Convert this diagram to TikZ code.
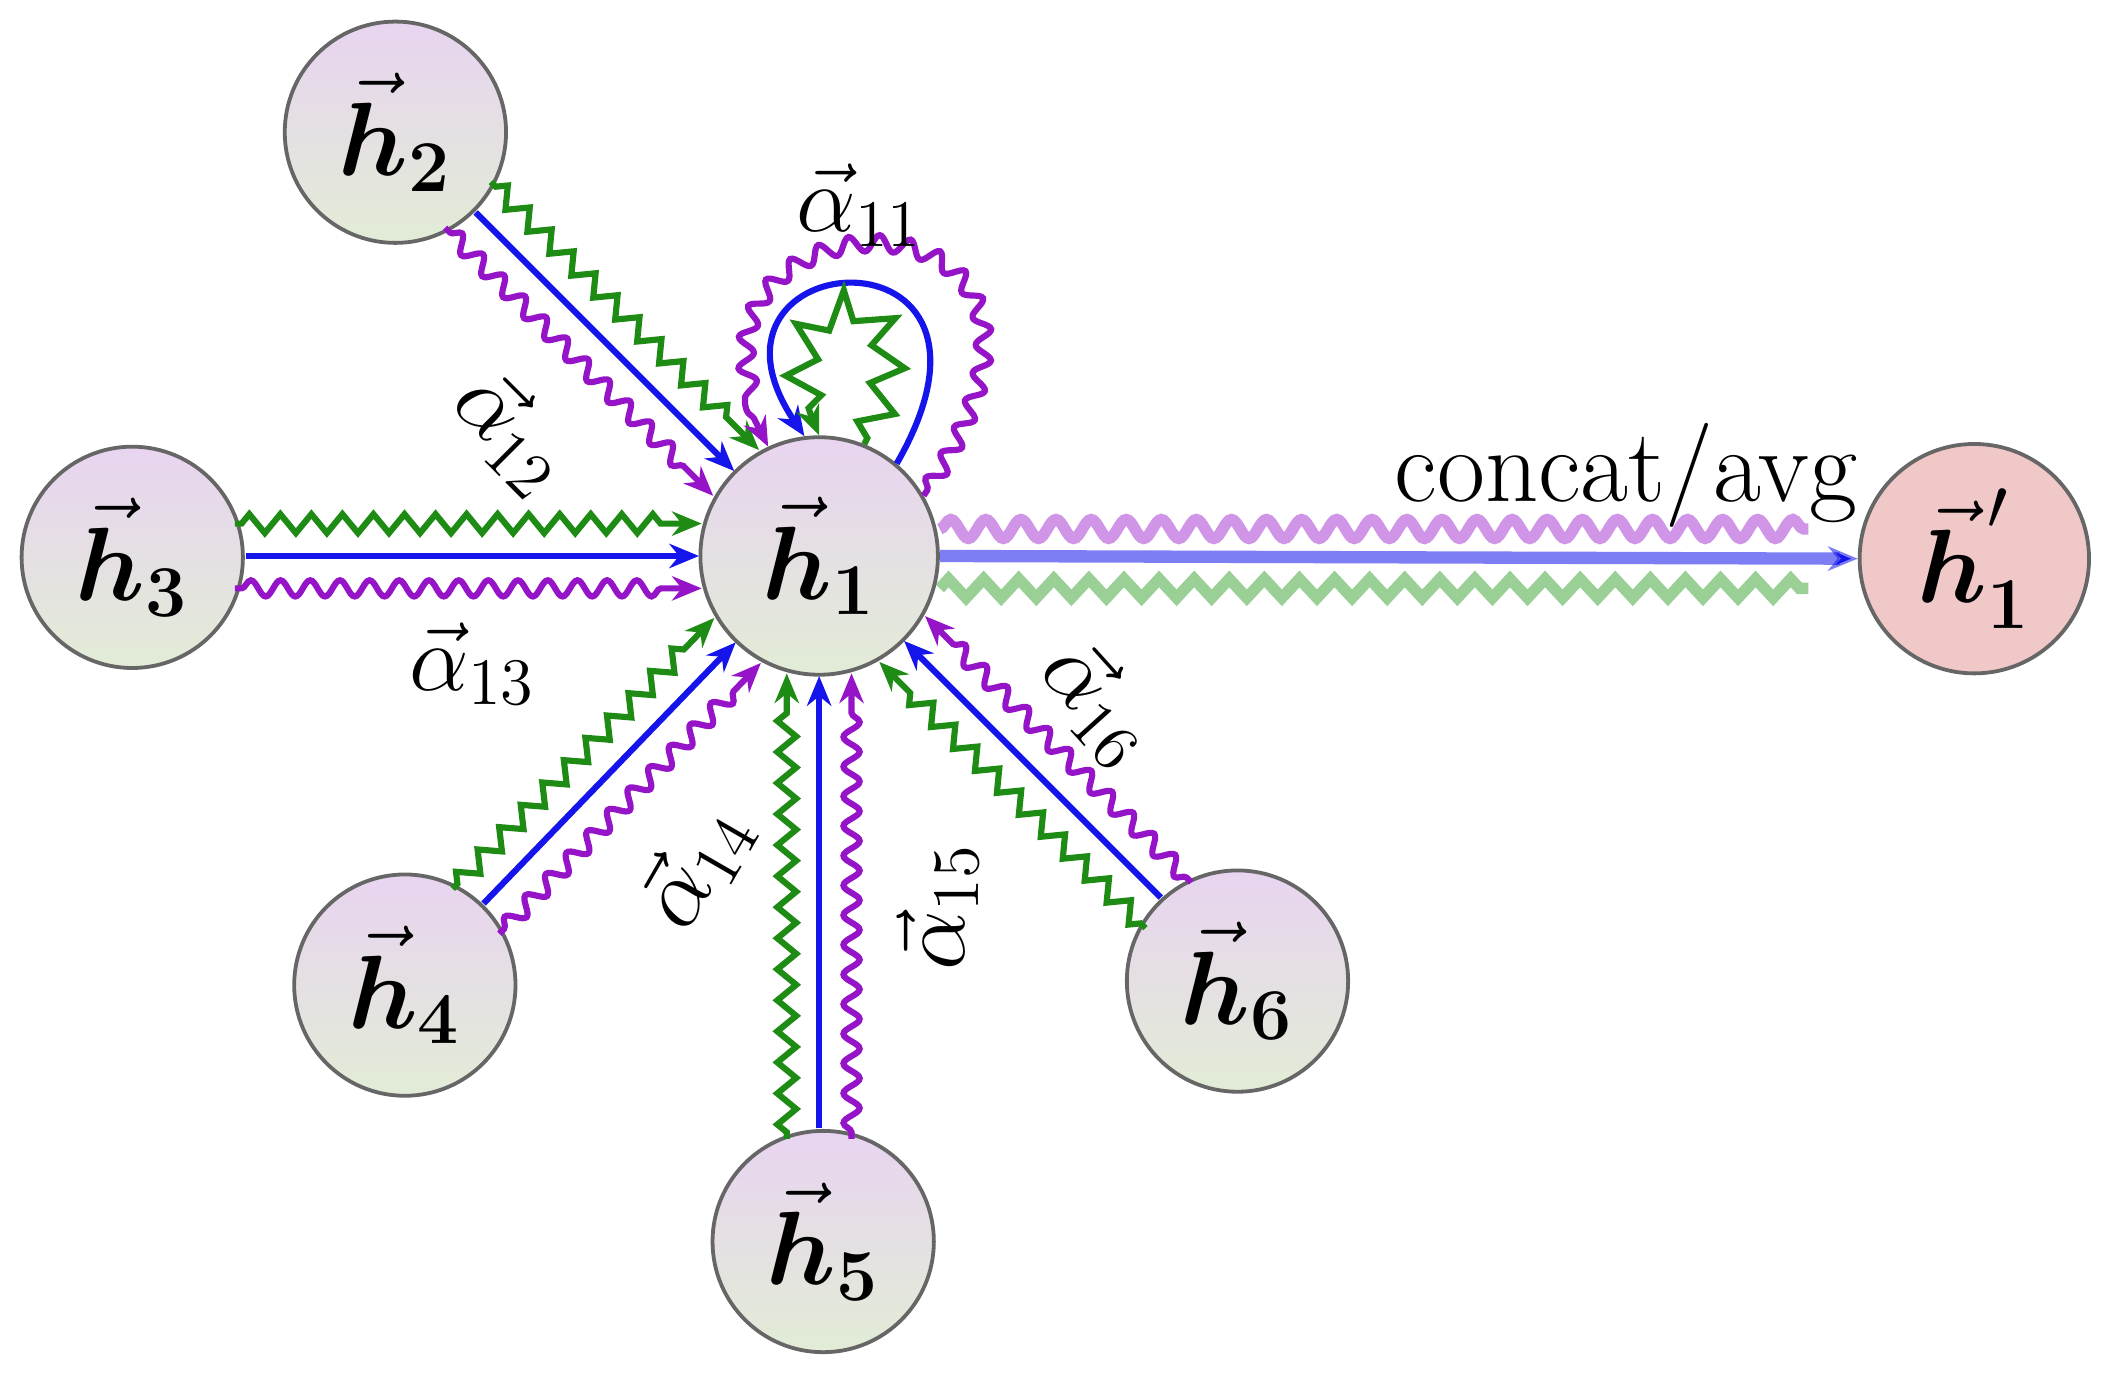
\documentclass[tikz,border=0pt]{standalone}
\usepackage{fix-cm}
\usepackage{amsmath,amssymb}
\usetikzlibrary{arrows.meta,decorations.pathmorphing,calc}
\begin{document}
\begin{tikzpicture}[
  nd/.style={circle,draw=black!60,line width=0.8pt,top color={rgb,255:red,232;green,212;blue,240},bottom color={rgb,255:red,226;green,236;blue,214},inner sep=0pt},
  tip/.style={-{Stealth[length=2.2mm,width=1.8mm]}},
  bl/.style={tip,draw={rgb,255:red,20;green,20;blue,235},line width=1.3pt},
  gz/.style={tip,draw={rgb,255:red,30;green,140;blue,20},line width=1.3pt,decorate,decoration={zigzag,amplitude=0.7mm,segment length=2.3mm,post length=2.5mm,pre length=0.5mm}},
  ps/.style={tip,draw={rgb,255:red,150;green,20;blue,200},line width=1.3pt,decorate,decoration={snake,amplitude=0.6mm,segment length=2.2mm,post length=2.5mm,pre length=0.5mm}},
  lab/.style={font=\fontsize{20}{20}\selectfont}
]
\useasboundingbox (0,0) rectangle (15.68,-10.17);
\newcommand{\hv}[1]{\fontsize{22}{22}\selectfont$\vec{\boldsymbol{h}}_{\mathbf{#1}}$}
\node[nd,minimum size=1.76cm] (h1) at (6.07,-4.12) {\hv{1}};
\node[nd,minimum size=1.64cm] (h2) at (2.93,-0.98) {\hv{2}};
\node[nd,minimum size=1.64cm] (h3) at (0.98,-4.13) {\hv{3}};
\node[nd,minimum size=1.64cm] (h4) at (3.00,-7.30) {\hv{4}};
\node[nd,minimum size=1.64cm] (h5) at (6.10,-9.20) {\hv{5}};
\node[nd,minimum size=1.64cm] (h6) at (9.17,-7.27) {\hv{6}};
\node[circle,draw=black!60,line width=0.8pt,fill={rgb,255:red,240;green,200;blue,200},minimum size=1.70cm,inner sep=0pt] (h1p) at (14.63,-4.14) {\fontsize{22}{22}\selectfont$\vec{\boldsymbol{h}}'_{\mathbf{1}}$};

% neighbour edges
\foreach \a/\d in {135/4.44,180/5.09,226/4.42,270/5.08,315/4.42}{
  \begin{scope}[shift={(h1.center)},rotate=\a]
    \draw[bl] (\d-0.84,0) -- (0.89,0);
    \draw[gz] (\d-0.76,-0.24) -- (0.87,-0.24);
    \draw[ps] (\d-0.76,0.24) -- (0.87,0.24);
  \end{scope}
}
% self loop
\draw[bl] (h1.50) .. controls (7.7,-1.6) and (5.0,-1.8) .. (h1.97);
\draw[gz,decoration={zigzag,amplitude=1.2mm,segment length=3.2mm,post length=1.5mm}] (h1.68) .. controls (7.1,-1.9) and (5.5,-2.0) .. (h1.90);
\draw[ps,decoration={snake,amplitude=0.6mm,segment length=2.2mm,post length=2mm}] (h1.30) .. controls (8.5,-1.2) and (4.6,-1.4) .. (h1.115);

% output
\draw[tip,draw={rgb,255:red,20;green,20;blue,235},draw opacity=0.55,line width=2.6pt] (h1.east) -- (h1p.west);
\draw[draw={rgb,255:red,150;green,20;blue,200},opacity=0.45,line width=2.4pt,decorate,decoration={snake,amplitude=0.7mm,segment length=2.6mm}] ($(h1.east)+(0,0.2)$) -- (13.4,-3.92);
\draw[draw={rgb,255:red,30;green,150;blue,20},opacity=0.45,line width=2.4pt,decorate,decoration={zigzag,amplitude=0.7mm,segment length=2.6mm}] ($(h1.east)+(0,-0.24)$) -- (13.4,-4.36);
\node[font=\fontsize{22}{22}\selectfont] (ca) at (12.05,-3.52) {concat/avg};

% labels
\node[lab] (a11) at (6.37,-1.52) {$\vec{\alpha}_{11}$};
\node[lab,rotate=-45] (a12) at (3.80,-3.20) {$\vec{\alpha}_{12}$};
\node[lab] (a13) at (3.50,-4.92) {$\vec{\alpha}_{13}$};
\node[lab,rotate=60] (a14) at (5.15,-6.42) {$\vec{\alpha}_{14}$};
\node[lab,rotate=90] (a15) at (6.95,-6.72) {$\vec{\alpha}_{15}$};
\node[lab,rotate=-48] (a16) at (8.15,-5.20) {$\vec{\alpha}_{16}$};
\end{tikzpicture}
\end{document}
